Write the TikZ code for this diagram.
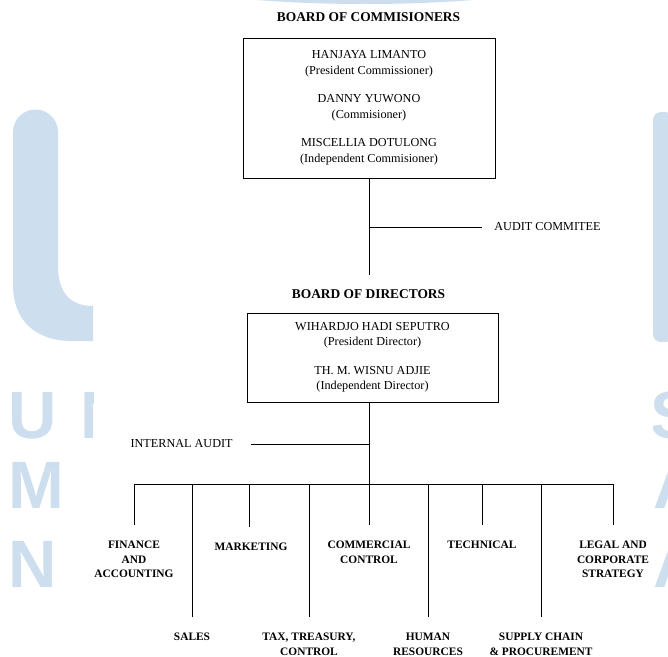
\documentclass[tikz,border=0pt]{standalone}
\usepackage{fontspec}
\setmainfont{Liberation Serif}
\setsansfont{Liberation Sans}
\usetikzlibrary{positioning}
\definecolor{umnblue}{RGB}{205,223,238}

\begin{document}
\begin{tikzpicture}[x=1pt,y=-1pt,line width=0.8pt,
  boxtext/.style={draw,black,align=center,inner sep=0pt,font=\fontsize{12.2}{16.5}\selectfont},
  title/.style={inner sep=0pt,font=\bfseries\fontsize{13.4}{16}\selectfont},
  dept/.style={anchor=north,align=center,inner sep=0pt,font=\bfseries\fontsize{11.4}{14.5}\selectfont},
  plain/.style={inner sep=0pt,font=\fontsize{12.2}{14}\selectfont},
  wm/.style={anchor=base west,inner sep=0pt,text=umnblue,font=\sffamily\bfseries\fontsize{67}{67}\selectfont}]
\def\gap{16pt}
\def\tgap{14pt}

\useasboundingbox (0,0) rectangle (668,656);

% watermark behind the chart
\fill[umnblue] (365,-36) ellipse [x radius=248, y radius=40];
\begin{scope}
\clip (0,0) rectangle (93,656);
\fill[umnblue] (13,132) arc[start angle=180,end angle=360,radius=22.5] -- (58,270)
  .. controls (60,298) and (75,306) .. (93,306) -- (93,341) -- (72,341)
  .. controls (35,341) and (13,320) .. (13,285) -- cycle;
\node[wm,name=w1] at (8,438) {U};
\node[wm,name=w2] at (80,438) {N};
\node[wm,name=w3] at (8,508) {M};
\node[wm,name=w4] at (8,587) {N};
\end{scope}
\begin{scope}
\clip (653,0) rectangle (668,656);
\fill[umnblue, rounded corners=8pt] (653,112) rectangle (673,342);
\node[wm,name=w5] at (650,438) {S};
\node[wm,name=w6] at (653,508) {A};
\node[wm,name=w7] at (653,587) {A};
\end{scope}

% boards
\node[title,name=comtitle] at (368.5,17.5) {BOARD OF COMMISIONERS};
\node[boxtext,minimum width=252pt,minimum height=140pt,name=com] at (369,108)
  {HANJAYA LIMANTO\\(President Commissioner)\\[11pt]DANNY YUWONO\\(Commisioner)\\[11pt]MISCELLIA DOTULONG\\(Independent Commisioner)};
\node[title,name=dirtitle] at (368.5,294) {BOARD OF DIRECTORS};
\node[boxtext,minimum width=251pt,minimum height=89pt,font=\fontsize{12.2}{15}\selectfont,name=dir] at (372.5,357.5)
  {WIHARDJO HADI SEPUTRO\\(President Director)\\[14pt]TH. M. WISNU ADJIE\\(Independent Director)};
\node[plain,anchor=west,name=audit] at (494,227) {AUDIT COMMITEE};
\node[plain,anchor=east,name=intaudit] at (233,444) {INTERNAL AUDIT};

% departments
\node[dept,name=fin] at (134,541) {FINANCE\\AND\\ACCOUNTING};
\node[dept,name=mkt] at (251,543) {MARKETING};
\node[dept,name=cc] at (369,541) {COMMERCIAL\\CONTROL};
\node[dept,name=tech] at (482,541) {TECHNICAL};
\node[dept,name=legal] at (613,541) {LEGAL AND\\CORPORATE\\STRATEGY};
\node[dept,name=sales] at (192,633) {SALES};
\node[dept,name=tax] at (309,633) {TAX, TREASURY,\\CONTROL};
\node[dept,name=hr] at (428,633) {HUMAN\\RESOURCES};
\node[dept,name=scm] at (541,633) {SUPPLY CHAIN\\\& PROCUREMENT};

% bus points
\coordinate (top) at (369,402);
\coordinate (hub) at (369,484);
\coordinate (bfin) at (134,484);
\coordinate (bsales) at (192,484);
\coordinate (bmkt) at (249,484);
\coordinate (btax) at (309,484);
\coordinate (bhr) at (428,484);
\coordinate (btech) at (482,484);
\coordinate (bscm) at (541,484);
\coordinate (blegal) at (613,484);

\draw [shorten >=\tgap](com.south) -- (com.south |- dirtitle.north);
\draw [shorten >=12pt](com.south |- audit.west) -- (audit.west);
\draw (top) -- (hub);
\draw [shorten >=18pt](top |- intaudit.east) -- (intaudit.east);
\draw (bfin) -- (blegal);
\draw [shorten >=\gap](bfin) -- (bfin |- fin.north);
\draw [shorten >=\gap](bsales) -- (bsales |- sales.north);
\draw [shorten >=\gap](bmkt) -- (bmkt |- mkt.north);
\draw [shorten >=\gap](btax) -- (btax |- tax.north);
\draw [shorten >=\gap](hub) -- (hub |- cc.north);
\draw [shorten >=\gap](bhr) -- (bhr |- hr.north);
\draw [shorten >=\gap](btech) -- (btech |- tech.north);
\draw [shorten >=\gap](bscm) -- (bscm |- scm.north);
\draw [shorten >=\gap](blegal) -- (blegal |- legal.north);
\end{tikzpicture}
\end{document}
